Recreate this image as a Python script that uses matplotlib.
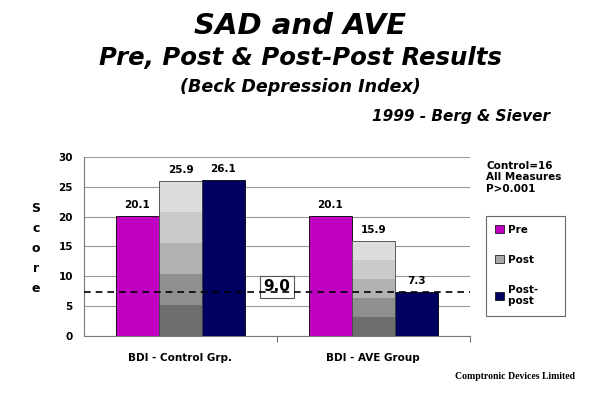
import matplotlib
matplotlib.use("Agg")
import matplotlib.pyplot as plt
import matplotlib.patches as mpatches
import numpy as np

groups = ["BDI - Control Grp.", "BDI - AVE Group"]
series = ["Pre", "Post", "Post-\npost"]
pre = [20.1, 20.1]
post = [25.9, 15.9]
post_post = [26.1, 7.3]
ref_value = 7.3
ref_label = "9.0"

PRE_COLOR = "#C000C0"
POST_POST_COLOR = "#000060"
POST_SHADES = ["#6e6e6e", "#8f8f8f", "#b2b2b2", "#cbcbcb", "#dddddd"]

fig = plt.figure(figsize=(6, 3.98), dpi=100)
ax = fig.add_axes([0.14, 0.156, 0.643, 0.4497])

x = np.arange(len(groups))
w = 0.223

ax.bar(x - w, pre, w, color=PRE_COLOR, edgecolor="black", linewidth=0.6, zorder=3)
# Post bars drawn as five stacked shades, darker at the bottom
for gi, val in enumerate(post):
    step = val / len(POST_SHADES)
    for si, shade in enumerate(POST_SHADES):
        ax.bar(x[gi], step, w, bottom=step * si, color=shade, linewidth=0, zorder=3)
    ax.bar(x[gi], val, w, fill=False, edgecolor="#444444", linewidth=0.6, zorder=4)
ax.bar(x + w, post_post, w, color=POST_POST_COLOR, edgecolor="black", linewidth=0.6, zorder=3)

for offs, vals in [(-w, pre), (0, post), (w, post_post)]:
    for xi, v in zip(x, vals):
        ax.text(xi + offs, v + 1.0, f"{v:.1f}", ha="center", va="bottom",
                fontsize=7.5, fontweight="bold", zorder=5)

ax.axhline(ref_value, color="black", linestyle=(0, (4, 3)), linewidth=1.2, zorder=6)
ax.text(0.5, 8.2, ref_label, ha="center", va="center", fontsize=11, fontweight="bold",
        bbox=dict(boxstyle="square,pad=0.25", facecolor="white", edgecolor="#555555",
                  linewidth=0.8), zorder=5)

ax.set_xlim(-0.5, 1.5)
ax.set_ylim(0, 30)
ax.set_yticks(np.arange(0, 31, 5))
ax.set_xticks(x)
ax.set_xticklabels(groups, fontsize=7.5, fontweight="bold")
ax.tick_params(axis="x", length=0, pad=12)
ax.set_xticks([0.5, 1.5], minor=True)
ax.tick_params(axis="x", which="minor", length=4, color="#555555")
ax.tick_params(axis="y", length=0, labelsize=7.5, pad=8)
for lbl in ax.get_yticklabels():
    lbl.set_fontweight("bold")
ax.yaxis.grid(True, color="#999999", linewidth=0.8, zorder=0)
ax.set_axisbelow(True)
for s in ["top", "right"]:
    ax.spines[s].set_visible(False)
ax.spines["left"].set_color("#777777")
ax.spines["bottom"].set_color("#777777")

fig.text(0.06, 0.375, "S\nc\no\nr\ne", ha="center", va="center", fontsize=9,
         fontweight="bold", linespacing=1.7)

fig.text(0.5, 0.935, "SAD and AVE", ha="center", va="center", fontsize=21,
         fontweight="bold", fontstyle="italic")
fig.text(0.5, 0.855, "Pre, Post & Post-Post Results", ha="center", va="center",
         fontsize=17.6, fontweight="bold", fontstyle="italic")
fig.text(0.5, 0.782, "(Beck Depression Index)", ha="center", va="center",
         fontsize=12.6, fontweight="bold", fontstyle="italic")
fig.text(0.917, 0.708, "1999 - Berg & Siever", ha="right", va="center",
         fontsize=11, fontweight="bold", fontstyle="italic")

fig.text(0.81, 0.595, "Control=16\nAll Measures\nP>0.001", ha="left", va="top",
         fontsize=7.5, fontweight="bold", linespacing=1.15)

handles = [mpatches.Patch(facecolor=PRE_COLOR, edgecolor="black", linewidth=0.5),
           mpatches.Patch(facecolor="#a8a8a8", edgecolor="black", linewidth=0.5),
           mpatches.Patch(facecolor=POST_POST_COLOR, edgecolor="black", linewidth=0.5)]
leg = fig.legend(handles, series, loc="upper left", bbox_to_anchor=(0.81, 0.458),
                 frameon=True, fancybox=False, handlelength=0.8,
                 handleheight=0.8, handletextpad=0.4, labelspacing=1.9,
                 borderpad=0.9, borderaxespad=0, prop={"weight": "bold", "size": 7.5})
leg.get_frame().set_edgecolor("#444444")
leg.get_frame().set_linewidth(0.8)
for t in leg.get_texts():
    t.set_text(t.get_text() + "      ")

fig.text(0.858, 0.055, "Comptronic Devices Limited", ha="center", va="center",
         fontsize=7, fontweight="bold", family="Liberation Serif")

fig.savefig("out.png", dpi=100)
